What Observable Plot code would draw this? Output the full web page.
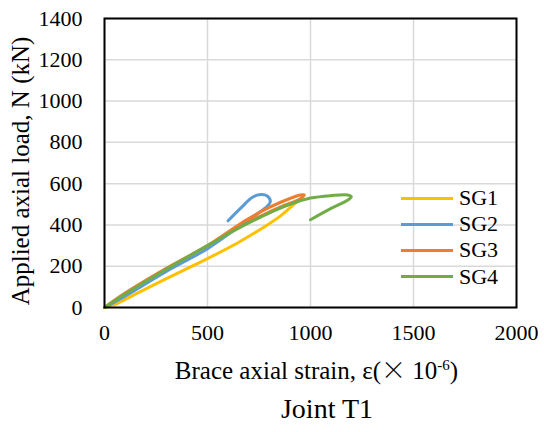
<!DOCTYPE html>
<html>
<head>
<meta charset="utf-8">
<script src="https://cdn.jsdelivr.net/npm/d3@7"></script>
<script src="https://cdn.jsdelivr.net/npm/@observablehq/plot@0.6"></script>
<style>
  html, body { margin: 0; padding: 0; background: #fff; }
  #wrap { position: relative; width: 544px; height: 432px; font-family: "Liberation Serif", "Times New Roman", serif; }
  #legend { position: absolute; left: 401px; top: 185px; font-size: 22px; color: #000; }
  #legend .row { display: flex; align-items: center; height: 26.2px; }
  #legend .sw { width: 52px; height: 3px; margin-right: 6px; }
  #caption { position: absolute; left: 0; width: 544px; top: 393px; text-align: center; font-size: 28px; line-height: 32px; padding-left: 110px; box-sizing: border-box; color: #000; }
</style>
</head>
<body>
<div id="wrap">
  <div id="chart"></div>
  <div id="legend"></div>
  <div id="caption">Joint T1</div>
</div>
<script>
const seriesNames = ["SG1", "SG2", "SG3", "SG4"];
const seriesColors = ["#FFC000", "#5B9BD5", "#ED7D31", "#70AD47"];
const xTicks = [0, 500, 1000, 1500, 2000];
const yTicks = [0, 200, 400, 600, 800, 1000, 1200, 1400];
const xLabelParts = ["Brace axial strain, ε(", "\u00D7", " 10", "-6", ")"];
const xLabel = xLabelParts.join("");
const yLabel = "Applied axial load, N (kN)";

// strain (x 10^-6), load (kN)
const sg1Strain = [0, 50, 150, 300, 500, 650, 775, 850, 920, 955, 970];
const sg1Load   = [0, 15, 65, 140, 237, 315, 390, 440, 500, 530, 545];

const sg2Strain = [0, 100, 300, 500, 650, 720, 790, 805, 790, 760, 720, 660, 600];
const sg2Load   = [0, 55, 175, 285, 390, 440, 490, 515, 540, 547, 535, 480, 420];

const sg3Strain = [0, 100, 300, 500, 690, 800, 900, 950, 968, 955, 850, 750, 700, 690];
const sg3Load   = [0, 70, 190, 300, 425, 485, 528, 545, 546, 530, 485, 440, 418, 422];

const sg4Strain = [0, 100, 300, 500, 700, 900, 1000, 1100, 1180, 1198, 1180, 1100, 1000];
const sg4Load   = [0, 65, 185, 300, 410, 500, 530, 542, 545, 537, 520, 480, 425];

const strains = [sg1Strain, sg2Strain, sg3Strain, sg4Strain];
const loads = [sg1Load, sg2Load, sg3Load, sg4Load];

const data = [];
seriesNames.forEach((name, i) => {
  strains[i].forEach((s, j) => data.push({series: name, strain: s, load: loads[i][j]}));
});

const font = "'Liberation Serif', 'Times New Roman', serif";
const chart = Plot.plot({
  width: 544,
  height: 395,
  marginLeft: 104,
  marginRight: 28,
  marginTop: 18,
  marginBottom: 88,
  style: {fontFamily: font, fontSize: "22px", color: "#000", background: "#fff", overflow: "visible"},
  x: {domain: [0, 2000], ticks: xTicks},
  y: {domain: [0, 1400], ticks: yTicks},
  color: {domain: seriesNames, range: seriesColors},
  marks: [
    Plot.gridX(xTicks, {stroke: "#d9d9d9", strokeOpacity: 1, strokeWidth: 1.5}),
    Plot.gridY(yTicks, {stroke: "#d9d9d9", strokeOpacity: 1, strokeWidth: 1.5}),
    Plot.axisX(xTicks, {tickSize: 0, tickPadding: 17, fontSize: 22, tickFormat: d3.format("d"), label: null}),
    Plot.axisY(yTicks, {tickSize: 0, tickPadding: 22, fontSize: 22, tickFormat: d3.format("d"), label: null}),
    Plot.text([xLabel], {text: d => d, frameAnchor: "bottom", dy: 63, fontSize: 25, lineAnchor: "middle", textAnchor: "middle", dx: 6}),
    Plot.text([yLabel], {text: d => d, frameAnchor: "left", rotate: -90, dx: -84, dy: 8, fontSize: 25, lineAnchor: "middle", textAnchor: "middle"}),
    Plot.line(data, {x: "strain", y: "load", z: "series", stroke: "series", strokeWidth: 3, curve: "catmull-rom"}),
    Plot.frame({stroke: "#000", strokeWidth: 2})
  ]
});
document.getElementById("chart").appendChild(chart);

// rich formatting of the x-axis label (wide multiplication sign, superscript exponent)
d3.select(chart).selectAll("text").filter(function() { return this.textContent === xLabel; }).each(function() {
  const t = d3.select(this);
  t.text(null);
  t.append("tspan").text(xLabelParts[0]);
  t.append("tspan").attr("font-family", "'Noto Sans CJK SC'").attr("font-weight", 300).text(xLabelParts[1]);
  t.append("tspan").text(xLabelParts[2]);
  t.append("tspan").attr("font-size", 15).attr("dy", "-0.55em").text(xLabelParts[3]);
  t.append("tspan").attr("dy", "0.33em").text(xLabelParts[4]);
});

const legend = document.getElementById("legend");
seriesNames.forEach((name, i) => {
  const row = document.createElement("div");
  row.className = "row";
  row.innerHTML = `<span class="sw" style="background:${seriesColors[i]}"></span><span>${name}</span>`;
  legend.appendChild(row);
});
</script>
</body>
</html>
